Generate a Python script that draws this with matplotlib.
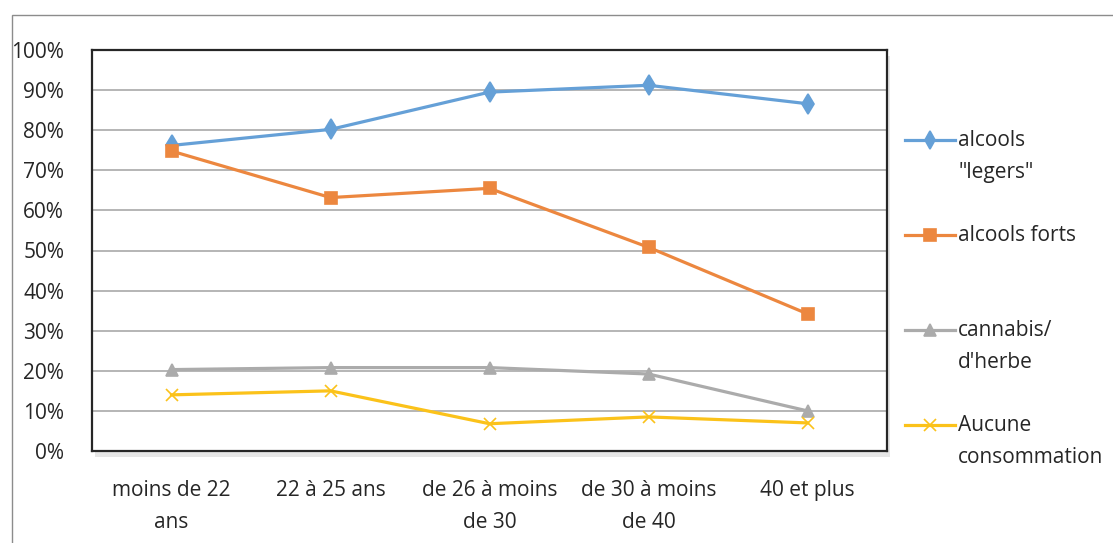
import matplotlib
matplotlib.use("Agg")
import matplotlib.pyplot as plt
from matplotlib.lines import Line2D
from matplotlib.patches import Rectangle
from matplotlib.ticker import MultipleLocator, FuncFormatter

plt.rcParams['font.family'] = ['Open Sans', 'DejaVu Sans']

# data
categories = ["moins de 22\nans", "22 à 25 ans", "de 26 à moins\nde 30",
              "de 30 à moins\nde 40", "40 et plus"]
legers = [76.2, 80.2, 89.5, 91.2, 86.6]
forts = [74.8, 63.2, 65.5, 50.8, 34.2]
cannabis = [20.3, 20.8, 20.8, 19.2, 10.0]
aucune = [14.0, 15.0, 6.8, 8.5, 7.0]

labels = ['alcools\n"legers"', 'alcools forts', "cannabis/\nd'herbe", 'Aucune\nconsommation']
colors = ['#65A0D7', '#EC873F', '#ABABAB', '#FBC21A']
markers = ['d', 's', '^', 'x']
msizes = [10, 9, 9, 9]

fig = plt.figure(figsize=(11.13, 5.43), dpi=100)
ax = fig.add_axes([92 / 1113, 1 - 451 / 543, (887 - 92) / 1113, (451 - 50) / 543])

x = range(len(categories))
series = [legers, forts, cannabis, aucune]
for vals, c, m, ms in zip(series, colors, markers, msizes):
    ax.plot(x, vals, color=c, lw=2.3, marker=m, markersize=ms,
            markeredgecolor=c, markeredgewidth=1.2, zorder=3)

ax.set_xlim(-0.5, len(categories) - 0.5)
ax.set_ylim(0, 100)
ax.yaxis.set_major_locator(MultipleLocator(10))
ax.yaxis.set_major_formatter(FuncFormatter(lambda v, p: f"{v:.0f}%"))
ax.set_xticks(list(x))
ax.set_xticklabels(categories, linespacing=1.7)
ax.tick_params(axis='both', length=0, labelsize=15, colors='#262626')
ax.tick_params(axis='y', pad=20)
ax.tick_params(axis='x', pad=21)
ax.grid(axis='y', color='#b0b0b0', lw=1.3)
ax.set_axisbelow(True)
for s in ax.spines.values():
    s.set_color('#262626')
    s.set_linewidth(1.6)

# faint shadow of the plot frame
fig.patches.append(Rectangle((95 / 1113, 1 - 457 / 543), (887 - 92) / 1113, (451 - 50) / 543,
                             transform=fig.transFigure, facecolor='#e6e6e6',
                             edgecolor='none', zorder=-1))
# outer border of the chart area
fig.patches.append(Rectangle((12 / 1113, -0.05), 1.2, 1.05 - 15 / 543,
                             transform=fig.transFigure, facecolor='none',
                             edgecolor='#8c8c8c', lw=1.0))

# legend drawn by hand to keep the Excel spacing
leg_y = [140, 235, 330, 425]
for lab, c, m, ms, yy in zip(labels, colors, markers, msizes, leg_y):
    yf = 1 - yy / 543
    fig.add_artist(Line2D([905 / 1113, 955 / 1113], [yf, yf], transform=fig.transFigure,
                          color=c, lw=2.3))
    fig.add_artist(Line2D([930 / 1113], [yf], transform=fig.transFigure, color=c,
                          marker=m, markersize=ms - 1, markeredgecolor=c, markeredgewidth=1.2))
    fig.text(958 / 1113, 1 - (yy - 10) / 543, lab, ha='left', va='top', fontsize=15,
             color='#262626', linespacing=1.7, transform=fig.transFigure)

fig.savefig("out.png", dpi=100)
